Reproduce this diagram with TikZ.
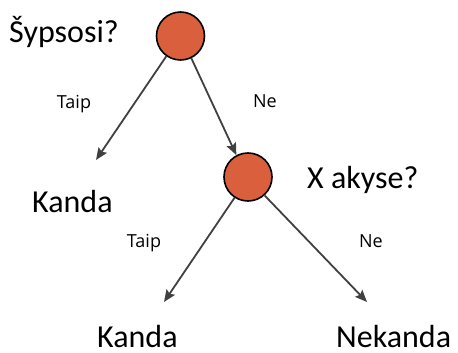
\documentclass[tikz,border=0pt]{standalone}
\usepackage{fontspec}
\setmainfont{Carlito}
\newfontfamily\lblfont{Open Sans}
\usetikzlibrary{arrows.meta}
\definecolor{nodefill}{HTML}{D95F3D}
\definecolor{arrowgray}{HTML}{404040}
\tikzset{
  decision/.style={circle,draw=black,line width=1.6pt,fill=nodefill,minimum size=48pt,inner sep=0pt},
  bigtext/.style={font=\fontsize{32}{38}\selectfont,inner sep=0pt},
  smalltext/.style={font=\lblfont\fontsize{18}{22}\selectfont,inner sep=0pt},
  edge/.style={draw=arrowgray,line width=1.8pt,-{Stealth[length=12pt,width=10pt,inset=2pt]}}
}
\begin{document}
\begin{tikzpicture}[x=1pt,y=1pt]
\useasboundingbox (0,0) rectangle (458,-353);
\node[decision] (root) at (180.5,-36) {};
\node[decision] (x) at (248,-177) {};
\coordinate (yesA) at (96,-160);
\coordinate (yesB) at (164,-302);
\coordinate (noB) at (367,-302);
\node[bigtext,anchor=base west] (q1) at (9,-43) {Šypsosi?};
\node[bigtext,anchor=base west] (q2) at (307,-188) {X akyse?};
\node[bigtext,anchor=base west] (k1) at (32,-212) {Kanda};
\node[bigtext,anchor=base west] (k2) at (97,-347) {Kanda};
\node[bigtext,anchor=base west] (nk) at (336,-347) {Nekanda};
\node[smalltext,anchor=base] (t1) at (74,-108) {Taip};
\node[smalltext,anchor=base] (n1) at (265,-107) {Ne};
\node[smalltext,anchor=base] (t2) at (144,-247) {Taip};
\node[smalltext,anchor=base] (n2) at (371,-247) {Ne};
\draw[edge] (root.235) -- (yesA);
\draw[edge] (root.296) -- (x.118);
\draw[edge] (x.237) -- (yesB);
\draw[edge] (x.312) -- (noB);
\end{tikzpicture}
\end{document}
